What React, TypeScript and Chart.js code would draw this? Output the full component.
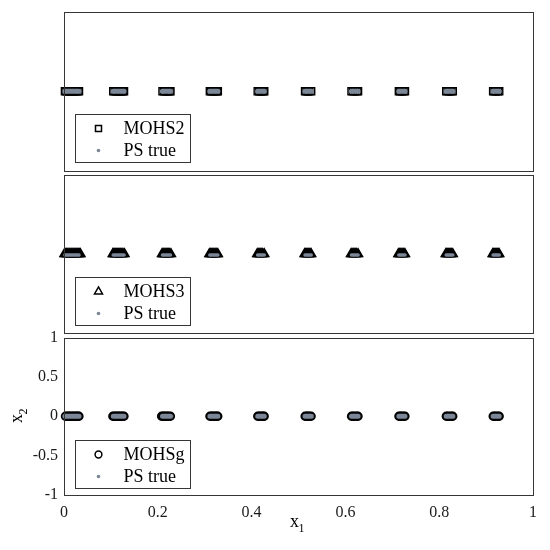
import React, { useEffect, useRef } from "react";
import { Chart, registerables } from "chart.js";

Chart.register(...registerables);

// ---- data ----
const psStart = [0.002, 0.105, 0.21, 0.311, 0.413, 0.514, 0.613, 0.714, 0.815, 0.915];
const psEnd = [0.032, 0.128, 0.227, 0.328, 0.427, 0.527, 0.627, 0.727, 0.829, 0.928];

const mohs2X = [
  0.002, 0.005, 0.008, 0.011, 0.014, 0.017, 0.02, 0.023, 0.026, 0.029, 0.032,
  0.105, 0.108, 0.111, 0.114, 0.117, 0.12, 0.123, 0.126, 0.128,
  0.21, 0.213, 0.216, 0.219, 0.222, 0.225, 0.227,
  0.311, 0.314, 0.317, 0.32, 0.323, 0.326, 0.328,
  0.413, 0.416, 0.419, 0.422, 0.425, 0.427,
  0.514, 0.517, 0.52, 0.523, 0.527,
  0.613, 0.616, 0.62, 0.624, 0.627,
  0.714, 0.717, 0.72, 0.724, 0.727,
  0.815, 0.818, 0.822, 0.826, 0.829,
  0.915, 0.918, 0.921, 0.925, 0.928,
];
const mohs3X = [
  0.001, 0.003, 0.005, 0.007, 0.009, 0.011, 0.013, 0.015, 0.017, 0.019, 0.021, 0.023, 0.025, 0.027, 0.029, 0.031, 0.033, 0.035,
  0.104, 0.106, 0.108, 0.11, 0.112, 0.114, 0.116, 0.118, 0.12, 0.122, 0.124, 0.126, 0.129,
  0.209, 0.211, 0.213, 0.215, 0.217, 0.219, 0.221, 0.223, 0.225, 0.228,
  0.31, 0.312, 0.314, 0.316, 0.318, 0.32, 0.322, 0.324, 0.326, 0.328,
  0.412, 0.414, 0.416, 0.418, 0.42, 0.422, 0.424, 0.427,
  0.513, 0.515, 0.517, 0.519, 0.521, 0.523, 0.525, 0.527,
  0.612, 0.614, 0.616, 0.618, 0.62, 0.622, 0.624, 0.627,
  0.713, 0.715, 0.717, 0.719, 0.721, 0.723, 0.725, 0.727,
  0.814, 0.816, 0.818, 0.82, 0.822, 0.824, 0.826, 0.829,
  0.914, 0.916, 0.918, 0.92, 0.922, 0.924, 0.926, 0.928,
];
const mohsgX = [
  0.003, 0.006, 0.009, 0.012, 0.015, 0.018, 0.021, 0.024, 0.027, 0.03, 0.032,
  0.104, 0.107, 0.11, 0.113, 0.116, 0.119, 0.122, 0.125, 0.128,
  0.208, 0.211, 0.214, 0.217, 0.22, 0.223, 0.227,
  0.311, 0.314, 0.317, 0.32, 0.323, 0.326, 0.328,
  0.413, 0.416, 0.419, 0.422, 0.425, 0.427,
  0.514, 0.517, 0.52, 0.523, 0.527,
  0.613, 0.616, 0.62, 0.624, 0.627,
  0.714, 0.717, 0.72, 0.724, 0.727,
  0.815, 0.818, 0.822, 0.826, 0.829,
  0.915, 0.918, 0.921, 0.925, 0.928,
];

const xTicks = [0, 0.2, 0.4, 0.6, 0.8, 1];
const yTicks = [-1, -0.5, 0, 0.5, 1];
const seriesNames = ["MOHS2", "MOHS3", "MOHSg"];
const psName = "PS true";

// ---- styles ----
const FONT = "'Liberation Serif', 'Times New Roman', Times, serif";
const GRAY = "#7b8796";
const FRAME = "#363636";

type Spec = {
  name: string;
  xs: number[];
  style: "rect" | "triangle" | "circle";
  radius: number;
  border: number;
  fill: string;
  psWidth: number;
  psOffset: number;
  top: number;
  bottom: number;
  axes: boolean;
};

const PLOT_LEFT = 64;
const PLOT_RIGHT = 533;

const specs: Spec[] = [
  { name: seriesNames[0], xs: mohs2X, style: "rect", radius: 5, border: 1.4, fill: "rgba(255,255,255,0)", psWidth: 5.2, psOffset: 0, top: 12, bottom: 170.5, axes: false },
  { name: seriesNames[1], xs: mohs3X, style: "triangle", radius: 5.4, border: 1.3, fill: "#000", psWidth: 3.6, psOffset: 1, top: 175, bottom: 333, axes: false },
  { name: seriesNames[2], xs: mohsgX, style: "circle", radius: 3.7, border: 1.9, fill: "rgba(255,255,255,0)", psWidth: 5, psOffset: 0, top: 337.5, bottom: 495, axes: true },
];

function drawLegendMarker(ctx: CanvasRenderingContext2D, style: string, x: number, y: number) {
  ctx.save();
  ctx.strokeStyle = "#000";
  ctx.lineWidth = 1.5;
  ctx.beginPath();
  if (style === "rect") {
    ctx.rect(x - 3, y - 3, 6, 6);
  } else if (style === "triangle") {
    ctx.moveTo(x, y - 4.6);
    ctx.lineTo(x + 4, y + 2.4);
    ctx.lineTo(x - 4, y + 2.4);
    ctx.closePath();
  } else {
    ctx.arc(x, y, 3.4, 0, Math.PI * 2);
  }
  ctx.stroke();
  ctx.restore();
}

function makeChart(canvas: HTMLCanvasElement, spec: Spec) {
  const psData: { x: number; y: number | null }[] = [];
  psStart.forEach((s, i) => {
    psData.push({ x: s, y: 0 }, { x: psEnd[i], y: 0 }, { x: psEnd[i], y: null });
  });
  const mohsData = spec.xs.map((x) => ({ x, y: 0 }));

  const framePlugin = {
    id: "frame",
    afterDatasetsDraw(chart: any) {
      const { ctx, chartArea: ca } = chart;
      ctx.save();
      ctx.strokeStyle = FRAME;
      ctx.lineWidth = 1;
      const l = Math.round(ca.left) + 0.5;
      const t = Math.round(ca.top) + 0.5;
      const r = Math.round(ca.right) + 0.5;
      const b = Math.round(ca.bottom) + 0.5;
      ctx.strokeRect(l, t, r - l, b - t);
      ctx.restore();
    },
  };

  // shift the PS-true line down a little in the triangle panel (marker centring)
  const shiftPlugin = {
    id: "psShift",
    beforeDatasetDraw(chart: any, args: any) {
      if (args.index === 0 && spec.psOffset) {
        chart.ctx.save();
        chart.ctx.translate(0, spec.psOffset);
      }
    },
    afterDatasetDraw(chart: any, args: any) {
      if (args.index === 0 && spec.psOffset) chart.ctx.restore();
    },
  };

  const legendPlugin = {
    id: "boxLegend",
    afterDraw(chart: any) {
      const { ctx, chartArea: ca } = chart;
      const bx = Math.round(ca.left + 11) + 0.5;
      const by = Math.round(ca.top + 102) + 0.5;
      const bw = 115;
      const bh = 48;
      ctx.save();
      ctx.fillStyle = "#fff";
      ctx.fillRect(bx, by, bw, bh);
      ctx.strokeStyle = FRAME;
      ctx.lineWidth = 1;
      ctx.strokeRect(bx, by, bw, bh);
      const r1 = by + 14;
      const r2 = by + 36;
      drawLegendMarker(ctx, spec.style, bx + 23, r1);
      ctx.fillStyle = GRAY;
      ctx.beginPath();
      ctx.arc(bx + 23, r2, 1.8, 0, Math.PI * 2);
      ctx.fill();
      ctx.fillStyle = "#000";
      ctx.font = `18px ${FONT}`;
      ctx.textAlign = "left";
      ctx.textBaseline = "middle";
      ctx.fillText(spec.name, bx + 48, r1 + 1);
      ctx.fillText(psName, bx + 48, r2 + 1);
      ctx.restore();
    },
  };

  const titlePlugin = {
    id: "axisTitles",
    afterDraw(chart: any) {
      if (!spec.axes) return;
      const { ctx } = chart;
      ctx.save();
      ctx.fillStyle = "#000";
      ctx.textAlign = "left";
      ctx.textBaseline = "alphabetic";
      // x1
      ctx.font = `18px ${FONT}`;
      ctx.fillText("x", 290, 527);
      ctx.font = `12px ${FONT}`;
      ctx.fillText("1", 298.5, 532);
      // x2 (rotated)
      ctx.translate(22, 423);
      ctx.rotate(-Math.PI / 2);
      ctx.font = `18px ${FONT}`;
      ctx.fillText("x", 0, 0);
      ctx.font = `12px ${FONT}`;
      ctx.fillText("2", 8.5, 4.5);
      ctx.restore();
    },
  };

  const tickFont = { family: FONT, size: 16 };

  const scales: any = spec.axes
    ? {
        x: {
          type: "linear",
          min: 0,
          max: 1,
          grid: { display: false, drawTicks: false },
          border: { display: false },
          afterBuildTicks: (s: any) => {
            s.ticks = xTicks.map((v) => ({ value: v }));
          },
          afterFit: (s: any) => {
            s.height = 550 - spec.bottom;
          },
          ticks: {
            font: tickFont,
            color: "#1a1a1a",
            padding: 8,
            maxRotation: 0,
            autoSkip: false,
            callback: (v: any) => String(v),
          },
        },
        y: {
          type: "linear",
          min: -1,
          max: 1,
          grid: { display: false, drawTicks: false },
          border: { display: false },
          afterBuildTicks: (s: any) => {
            s.ticks = yTicks.map((v) => ({ value: v }));
          },
          afterFit: (s: any) => {
            s.width = PLOT_LEFT;
          },
          ticks: {
            font: tickFont,
            color: "#1a1a1a",
            padding: 6,
            autoSkip: false,
            callback: (v: any) => String(v),
          },
        },
      }
    : {
        x: { type: "linear", min: 0, max: 1, display: false },
        y: { type: "linear", min: -1, max: 1, display: false },
      };

  const padding = spec.axes
    ? { left: 0, right: 550 - PLOT_RIGHT, top: spec.top, bottom: 0 }
    : { left: PLOT_LEFT, right: 550 - PLOT_RIGHT, top: spec.top, bottom: 550 - spec.bottom };

  return new Chart(canvas, {
    type: "scatter",
    data: {
      datasets: [
        {
          label: psName,
          data: psData as any,
          showLine: true,
          borderColor: GRAY,
          backgroundColor: GRAY,
          borderWidth: spec.psWidth,
          borderCapStyle: "round",
          pointRadius: 0,
          spanGaps: false,
          clip: false as any,
          order: -1,
        } as any,
        {
          label: spec.name,
          data: mohsData,
          pointStyle: spec.style,
          pointRadius: spec.radius,
          pointBorderWidth: spec.border,
          pointBorderColor: "#000",
          pointBackgroundColor: spec.fill,
          showLine: false,
          clip: false as any,
          order: 0,
        } as any,
      ],
    },
    options: {
      responsive: false,
      animation: false,
      devicePixelRatio: 1,
      layout: { padding },
      scales,
      plugins: {
        legend: { display: false },
        tooltip: { enabled: false },
      },
      events: [],
    } as any,
    plugins: [shiftPlugin, framePlugin, legendPlugin, titlePlugin],
  });
}

export default function App() {
  const r1 = useRef<HTMLCanvasElement>(null);
  const r2 = useRef<HTMLCanvasElement>(null);
  const r3 = useRef<HTMLCanvasElement>(null);

  useEffect(() => {
    const refs = [r1, r2, r3];
    const charts = specs.map((s, i) => makeChart(refs[i].current as HTMLCanvasElement, s));
    return () => charts.forEach((c) => c.destroy());
  }, []);

  const cstyle: React.CSSProperties = {
    position: "absolute",
    left: 0,
    top: 0,
    width: 550,
    height: 550,
  };

  return (
    <div style={{ position: "absolute", left: 0, top: 0, width: 550, height: 550, background: "#fff" }}>
      <canvas ref={r1} width={550} height={550} style={cstyle} />
      <canvas ref={r2} width={550} height={550} style={cstyle} />
      <canvas ref={r3} width={550} height={550} style={cstyle} />
    </div>
  );
}
